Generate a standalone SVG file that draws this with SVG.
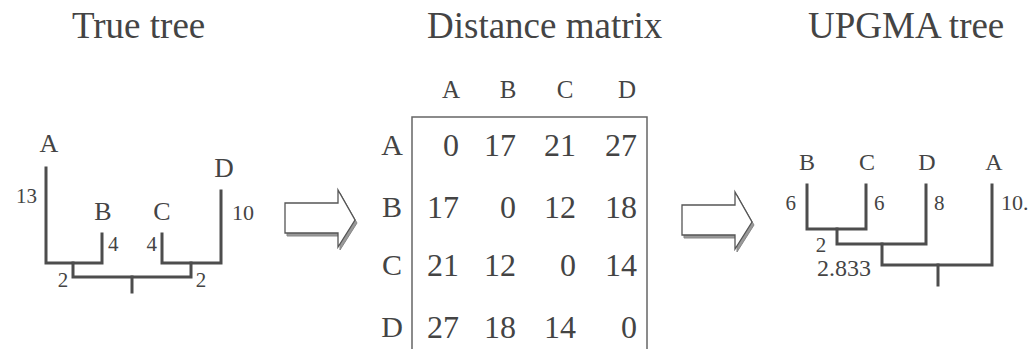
<svg xmlns="http://www.w3.org/2000/svg" width="1028" height="349" viewBox="0 0 1028 349">
<style>
text{fill:#444}
.title{font-size:37px}
.lbl{font-size:26px;text-anchor:middle}
.num{font-size:21px}
.hdr{font-size:25px;text-anchor:middle}
.row{font-size:30px;text-anchor:middle}
.val{font-size:32px;text-anchor:end}
.br{fill:none;stroke:#4d4d4d;stroke-width:3;stroke-linecap:square}
.arr{fill:#fff;stroke:#555;stroke-width:1.3;stroke-linejoin:miter}
.sh{fill:#999;stroke:#888;stroke-width:1}
</style>
<defs>
<polygon id="arrowShape" points="0,13 53,13 53,0 70,30 53,57 53,43 0,43"/>
</defs>
<rect width="1028" height="349" fill="#fff"/>
<g font-family="Liberation Serif, DejaVu Serif, serif">
<g id="titles">
<text class="title" x="72" y="38">True tree</text>
<text class="title" x="427" y="38">Distance matrix</text>
<text class="title" x="808" y="38">UPGMA tree</text>
</g>
<g id="true-tree">
<g id="connectors-true">
<path class="br" d="M46 168 V263 H102 V234"/>
<path class="br" d="M221 191 V263 H162 V234"/>
<path class="br" d="M73 263 V277 H191 V263"/>
<path class="br" d="M132 277 V292"/>
</g>
<g id="tt-A"><text class="lbl" x="49" y="152" font-size="27">A</text><text class="num" x="37" y="203" text-anchor="end">13</text></g>
<g id="tt-B"><text class="lbl" x="103" y="220">B</text><text class="num" x="108" y="251">4</text></g>
<g id="tt-C"><text class="lbl" x="162" y="220">C</text><text class="num" x="157" y="251" text-anchor="end">4</text></g>
<g id="tt-D"><text class="lbl" x="224" y="177" style="font-size:27px">D</text><text class="num" x="232" y="220" style="font-size:22px">10</text></g>
<g id="tt-internal"><text class="num" x="63" y="287" text-anchor="middle">2</text><text class="num" x="201" y="287" text-anchor="middle">2</text></g>
</g>
<g id="arrow1">
<use href="#arrowShape" class="sh" transform="translate(287,193)"/>
<use href="#arrowShape" class="arr" transform="translate(285,190)"/>
</g>
<g id="matrix">
<rect x="412" y="117" width="235" height="250" fill="none" stroke="#666" stroke-width="1.5"/>
<g id="col-headers">
<text class="hdr" x="451" y="98">A</text>
<text class="hdr" x="508" y="98">B</text>
<text class="hdr" x="565" y="98">C</text>
<text class="hdr" x="627" y="98">D</text>
</g>
<g id="row-A"><text class="row" x="392" y="155">A</text>
<text class="val" x="459" y="156">0</text><text class="val" x="516" y="156">17</text><text class="val" x="576" y="156">21</text><text class="val" x="637" y="156">27</text></g>
<g id="row-B"><text class="row" x="392" y="217">B</text>
<text class="val" x="459" y="218">17</text><text class="val" x="516" y="218">0</text><text class="val" x="576" y="218">12</text><text class="val" x="637" y="218">18</text></g>
<g id="row-C"><text class="row" x="392" y="275">C</text>
<text class="val" x="459" y="276">21</text><text class="val" x="516" y="276">12</text><text class="val" x="576" y="276">0</text><text class="val" x="637" y="276">14</text></g>
<g id="row-D"><text class="row" x="392" y="337">D</text>
<text class="val" x="459" y="338">27</text><text class="val" x="516" y="338">18</text><text class="val" x="576" y="338">14</text><text class="val" x="637" y="338">0</text></g>
</g>
<g id="arrow2">
<use href="#arrowShape" class="sh" transform="translate(684,195)"/>
<use href="#arrowShape" class="arr" transform="translate(682,192)"/>
</g>
<g id="upgma-tree">
<g id="connectors-upgma">
<path class="br" d="M807 185 V229 H866 V185"/>
<path class="br" d="M837 229 V244 H926 V185"/>
<path class="br" d="M882 244 V265 H992 V185"/>
<path class="br" d="M938 265 V285"/>
</g>
<g id="ut-B"><text class="lbl" x="807" y="170" style="font-size:24px">B</text><text class="num" x="796" y="210" text-anchor="end">6</text></g>
<g id="ut-C"><text class="lbl" x="867" y="170" style="font-size:24px">C</text><text class="num" x="874" y="210">6</text></g>
<g id="ut-D"><text class="lbl" x="927" y="170" style="font-size:24px">D</text><text class="num" x="934" y="210">8</text></g>
<g id="ut-A"><text class="lbl" x="994" y="170" style="font-size:24px">A</text><text class="num" x="1001" y="210" style="font-size:22px">10.</text></g>
<g id="ut-internal"><text class="num" x="821" y="252" text-anchor="middle">2</text><text class="num" x="817" y="276" style="font-size:24px">2.833</text></g>
</g>
</g>
</svg>
